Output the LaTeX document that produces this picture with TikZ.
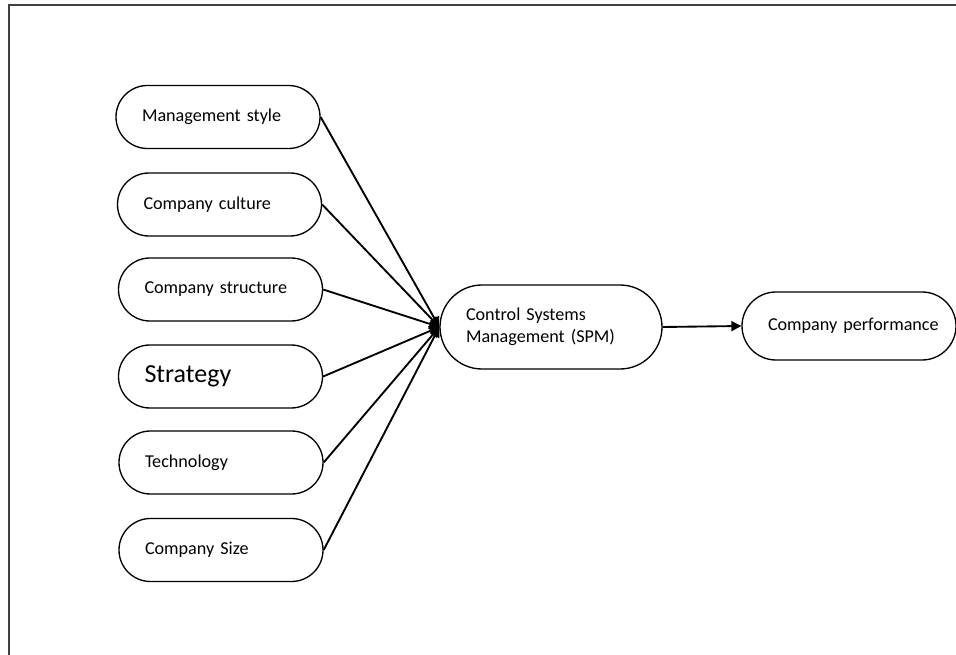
\documentclass[tikz,border=0pt]{standalone}
\usepackage{fontspec}
\setmainfont{Carlito}
\usetikzlibrary{arrows.meta}
\tikzset{
  factor/.style={draw, line width=1pt, rounded corners=23.6pt,
    minimum height=47.25pt, text width=114pt, inner xsep=19.5pt,
    align=left, font=\fontsize{13.6}{16.5}\selectfont},
  csm/.style={factor, rounded corners=31.5pt, minimum height=63pt,
    text width=127.5pt},
  result/.style={factor, rounded corners=25.5pt, minimum height=51pt,
    text width=121.5pt},
  link/.style={line width=1.4pt, -{Triangle[length=7.5pt,width=7.5pt]}}
}
\begin{document}
\begin{tikzpicture}[x=0.75pt,y=-0.75pt]
      \useasboundingbox (0,0) rectangle (956,655);
      \draw[line width=1.5pt, black!75] (9,655) -- (9,5) -- (956,5);
      \draw
        (218,117) node[factor] (style){Management style}
        (219.5,204.5) node[factor] (culture){Company culture}
        (220.5,289.5) node[factor] (structure){Company structure}
        (220.5,376.5) node[factor, font=\fontsize{19.5}{22}\selectfont] (strategy){Strategy}
        (221,462.5) node[factor] (technology){Technology}
        (221,550) node[factor] (size){Company Size}
        (551,327) node[csm] (spm){Control Systems\\Management (SPM)}
        (849,326) node[result] (performance){\mbox{Company performance}};
      \begin{scope}[link]
        \draw (style.east) to (spm.west);
        \draw (culture.east) to (spm.west);
        \draw (structure.east) to (spm.west);
        \draw (strategy.east) to (spm.west);
        \draw (technology.east) to (spm.west);
        \draw (size.east) to (spm.west);
        \draw (spm.east) to (performance.west);
      \end{scope}
    \end{tikzpicture}
\end{document}
